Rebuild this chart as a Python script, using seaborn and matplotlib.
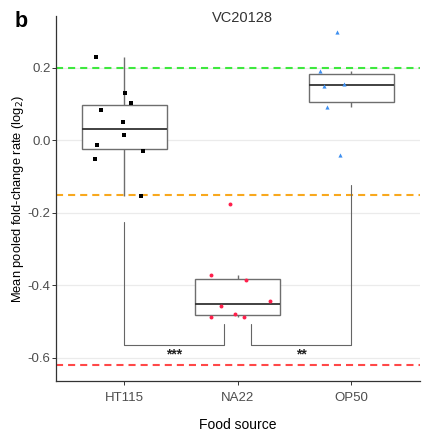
import matplotlib
matplotlib.use("Agg")
import matplotlib.pyplot as plt
import numpy as np
import pandas as pd
import seaborn as sns

sns.set_theme(style="white")
plt.rcParams["font.family"] = ["Liberation Sans", "DejaVu Sans"]
plt.rcParams["axes.unicode_minus"] = False

# Food sources and the pooled fold-change values
FOODS = ["HT115", "NA22", "OP50"]
HT115 = [0.230, 0.129, 0.102, 0.083, 0.049, 0.014, -0.012, -0.029, -0.052, -0.155]
NA22 = [-0.373, -0.386, -0.443, -0.458, -0.480, -0.487, -0.488, -0.175]
OP50 = [0.298, 0.191, 0.150, 0.156, 0.092, -0.041]

# horizontal jitter of each point (category units), as drawn
HT115_JIT = [-0.246, 0.011, 0.064, -0.202, -0.011, 0.0, -0.235, 0.164, -0.261, 0.150]
NA22_JIT = [-0.235, 0.076, 0.284, -0.144, -0.024, 0.058, -0.237, -0.065]
OP50_JIT = [-0.126, -0.273, -0.243, -0.064, -0.216, -0.102]

# reference lines
REF_LINES = [(0.2, "#3EE83E"), (-0.15, "#F8A81E"), (-0.62, "#FF4848")]

# significance brackets: (x left, x right, y left tip, y right tip, y bar, label)
BRACKETS = [
    (0.0, 0.88, -0.226, -0.508, -0.565, "***"),
    (1.12, 2.0, -0.508, -0.124, -0.565, "**"),
]

data = pd.DataFrame({
    "food": ["HT115"] * len(HT115) + ["NA22"] * len(NA22) + ["OP50"] * len(OP50),
    "rate": HT115 + NA22 + OP50,
    "jit": HT115_JIT + NA22_JIT + OP50_JIT,
})
data["xpos"] = data["food"].map({f: i for i, f in enumerate(FOODS)}) + data["jit"]

fig = plt.figure(figsize=(4.22, 4.34), dpi=100)
ax = fig.add_axes([56 / 422, 1 - 381.3 / 434, 363.5 / 422, 365.3 / 434])

ax.yaxis.grid(True, color="#EBEBEB", linewidth=0.9, zorder=0)
ax.set_axisbelow(True)

for y, c in REF_LINES:
    ax.axhline(y, color=c, linewidth=1.5, linestyle=(0, (3.4, 2.4)), zorder=1)

sns.boxplot(
    data=data, x="food", y="rate", order=FOODS, ax=ax, width=0.75,
    showfliers=False, whis=1.5, color="white", linecolor="#6E6E6E",
    linewidth=1.0, medianprops=dict(color="#333333", linewidth=1.3),
    capprops=dict(visible=False), zorder=2,
)

styles = {
    "HT115": dict(marker="s", color="black", s=7),
    "NA22": dict(marker="o", color="#FF1F4B", s=8),
    "OP50": dict(marker="^", color="#3D8FF0", s=9),
}
for food in FOODS:
    sub = data[data["food"] == food]
    st = styles[food]
    sns.scatterplot(x=sub["xpos"], y=sub["rate"], marker=st["marker"], color=st["color"],
                    s=st["s"], linewidth=0, ax=ax, zorder=3, legend=False)

for x0, x1, y0, y1, yb, lab in BRACKETS:
    ax.plot([x0, x0, x1, x1], [y0, yb, yb, y1], color="#666666", linewidth=0.8, zorder=2)
    ax.text((x0 + x1) / 2, yb - 0.008, lab, ha="center", va="top", fontsize=10,
            color="#222222", fontweight="bold")

ax.set_xlim(-0.6, 2.6)
ax.set_ylim(-0.665, 0.3426)
ax.set_yticks([-0.6, -0.4, -0.2, 0.0, 0.2])
ax.set_yticklabels(["-0.6", "-0.4", "-0.2", "0.0", "0.2"])
ax.set_xticks(range(len(FOODS)))
ax.set_xticklabels(FOODS)

sns.despine(ax=ax)
for side in ["left", "bottom"]:
    ax.spines[side].set_color("#333333")
    ax.spines[side].set_linewidth(0.9)
ax.tick_params(axis="both", which="both", length=3, width=0.7, color="#333333",
               labelsize=9.5, labelcolor="#4D4D4D", left=True, bottom=True)
ax.tick_params(axis="x", pad=5)
ax.tick_params(axis="y", pad=1)
ax.set_xlabel("")
ax.set_ylabel("")

# axis titles
fig.text(237.7 / 422, 1 - 429 / 434, "Food source", ha="center", va="baseline",
         fontsize=10, color="black")
fig.text(18 / 422, 1 - 199.5 / 434, "Mean pooled fold-change rate (log$_2$)",
         rotation=90, ha="center", va="center", fontsize=9.3, color="black")

fig.text(242.5 / 422, 1 - 22 / 434, "VC20128", ha="center", va="baseline",
         fontsize=10.5, color="#333333")
fig.text(15 / 422, 1 - 27 / 434, "b", ha="left", va="baseline", fontsize=15.5,
         fontweight="bold", color="black")

fig.savefig("out.png", dpi=100)
